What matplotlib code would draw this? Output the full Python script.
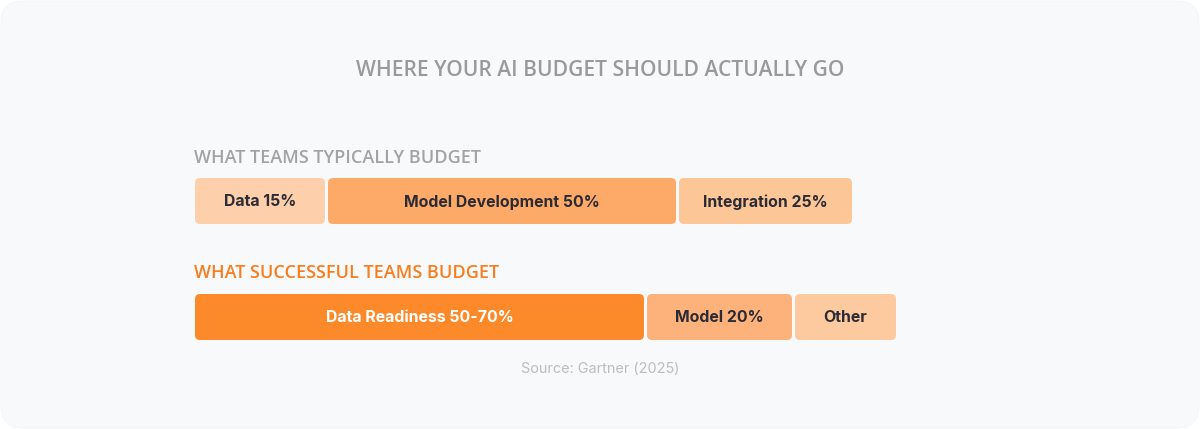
import matplotlib
matplotlib.use("Agg")
import matplotlib.pyplot as plt
from matplotlib.patches import FancyBboxPatch

# ---- data ----
title = "WHERE YOUR AI BUDGET SHOULD ACTUALLY GO"
typical_title = "WHAT TEAMS TYPICALLY BUDGET"
typical_labels = ["Data 15%", "Model Development 50%", "Integration 25%"]
typical_lengths = [130, 348, 173]          # displayed segment lengths (px units)
successful_title = "WHAT SUCCESSFUL TEAMS BUDGET"
successful_labels = ["Data Readiness 50-70%", "Model 20%", "Other"]
successful_lengths = [449, 145, 101]
source = "Source: Gartner (2025)"

# ---- styles ----
typical_colors = ["#fdd0ab", "#fdaa68", "#fdc697"]
successful_colors = ["#fd8a2a", "#fdb17b", "#fdcaa0"]
typical_text = ["#2b2b36", "#2b2b36", "#2b2b36"]
successful_text = ["#ffffff", "#2b2b36", "#2b2b36"]

W, H = 1200, 429
fig = plt.figure(figsize=(12, 4.29), dpi=100, facecolor="white")
ax = fig.add_axes([0, 0, 1, 1])
ax.set_xlim(0, W)
ax.set_ylim(H, 0)
ax.axis("off")

# card background
ax.add_patch(FancyBboxPatch((1, 1), W - 2, H - 2,
                            boxstyle="round,pad=0,rounding_size=22",
                            facecolor="#f8f9fb", edgecolor="#f4f5f7", lw=0.6))

ax.text(600, 70, title, ha="center", va="center", fontsize=15.1,
        family="Open Sans", fontweight="semibold", color="#9a9a9c")

def draw_row(y_title, y_top, label_title, title_color, lengths, labels, colors, tcolors):
    ax.text(194, y_title, label_title, ha="left", va="center", fontsize=13,
            family="Open Sans", fontweight="semibold", color=title_color)
    x = 195
    gap = 3
    h = 46
    for L, lab, c, tc in zip(lengths, labels, colors, tcolors):
        ax.add_patch(FancyBboxPatch((x, y_top), L, h,
                                    boxstyle="round,pad=0,rounding_size=5",
                                    facecolor=c, edgecolor="none"))
        ax.text(x + L / 2, y_top + h / 2 + 1, lab, ha="center", va="center",
                fontsize=11.4, family="Inter", fontweight="bold", color=tc)
        x += L + gap

draw_row(158, 178, typical_title, "#a3a3a5", typical_lengths, typical_labels,
         typical_colors, typical_text)
draw_row(273, 294, successful_title, "#f97d1e", successful_lengths, successful_labels,
         successful_colors, successful_text)

ax.text(600, 369, source, ha="center", va="center", fontsize=10.4,
        family="Inter", color="#bdbdc0")

fig.savefig("out.png", dpi=100, facecolor="white")
